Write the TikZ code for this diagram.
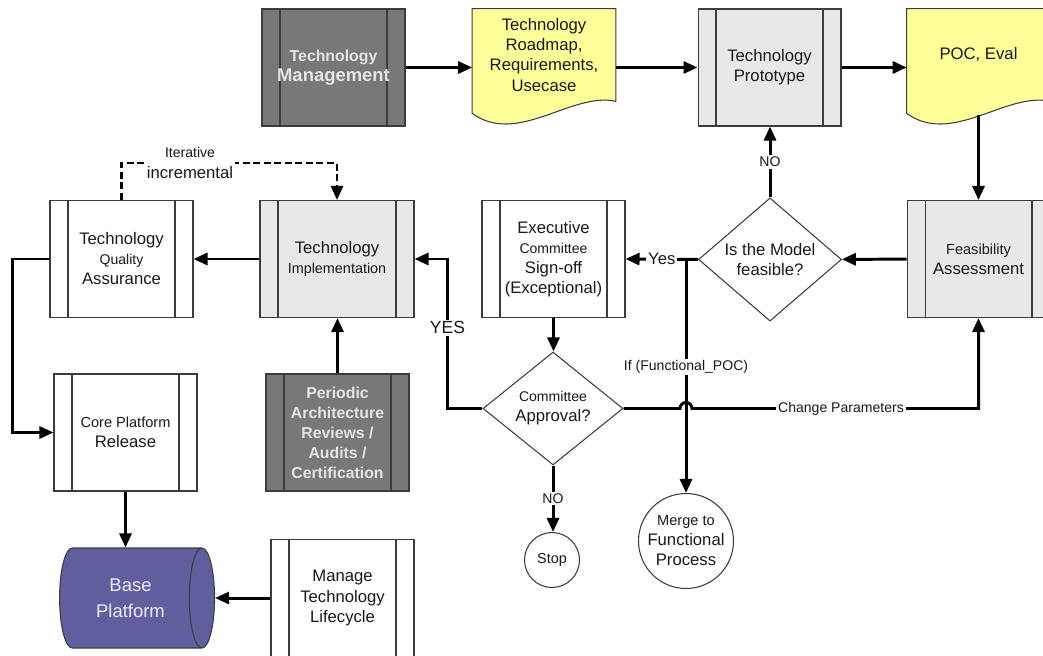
\documentclass[tikz,border=0pt]{standalone}
\usepackage{fontspec}
\setmainfont{Liberation Sans}
\usetikzlibrary{calc, shapes.geometric, arrows.meta, positioning, backgrounds}
\definecolor{darkbox}{HTML}{787878}
\definecolor{lightbox}{HTML}{E8E8E8}
\definecolor{docyellow}{HTML}{FFFF99}
\definecolor{baseblue}{HTML}{5F5F9E}
\definecolor{edge}{HTML}{3C3C3C}
\newcommand{\fsz}[1]{\fontsize{#1}{11.4}\selectfont}

\begin{document}
\begin{tikzpicture}[x=0.02cm,y=-0.02cm,
	every node/.style={font={\fsz{9.5}}, align=center, text=black!90},
	procbox/.style={draw=edge, line width=0.6pt, minimum width=2.86cm, minimum height=2.34cm, inner sep=0pt,
		path picture={\draw[edge, line width=0.6pt] ([xshift=0.36cm]path picture bounding box.north west) -- ([xshift=0.36cm]path picture bounding box.south west)
			([xshift=-0.36cm]path picture bounding box.north east) -- ([xshift=-0.36cm]path picture bounding box.south east);}},
	darkproc/.style={procbox, fill=darkbox, text=white!90!black, font={\bfseries\fsz{9}}},
	lightproc/.style={procbox, fill=lightbox},
	whiteproc/.style={procbox, fill=white},
	docbox/.style={minimum width=2.86cm, minimum height=1.84cm, inner sep=0pt},
	decision/.style={diamond, draw=edge, line width=0.6pt, fill=white, inner sep=0pt},
	terminal/.style={circle, draw=edge, line width=0.6pt, fill=white, inner sep=0pt},
	storage/.style={cylinder, draw=edge, line width=0.6pt, fill=baseblue, aspect=0.65, inner sep=0pt,
		text=white!92!blue, font={\fontsize{10.5}{14.8}\selectfont}},
	arr/.style={line width=1.7pt, -{Triangle[length=0.28cm, width=0.24cm]}},
	lbl/.style={fill=white, inner sep=1pt, font={\fsz{8}}},
	]
	\useasboundingbox (0,0) rectangle (1043,655);

	\node[darkproc] (techmgmt) at (333.5,67.5) {{\fsz{9}Technology}\\{\fsz{10.5}Management}};
	\node[docbox] (roadmap) at (544,55) {Technology\\Roadmap,\\Requirements,\\Usecase};
	\node[lightproc] (prototype) at (769.5,67.5) {Technology\\Prototype};
	\node[docbox] (poceval) at (978.5,55) {POC, Eval};
	\node[lightproc] (feasibility) at (978.5,259) {{\fsz{8.3}Feasibility}\\Assessment};
	\node[decision, minimum width=2.86cm, minimum height=2.3cm] (feasible) at (770,259.5) {Is the Model\\feasible?};
	\node[whiteproc] (signoff) at (553.5,259) {Executive\\{\fsz{8}Committee}\\Sign-off\\(Exceptional)};
	\node[lightproc, minimum width=3.08cm] (implement) at (337,259) {Technology\\{\fsz{8.2}Implementation}};
	\node[whiteproc] (qualityas) at (121.5,259) {Technology\\{\fsz{8}Quality}\\Assurance};
	\node[whiteproc] (coreplat) at (125.5,432.5) {{\fsz{8.3}Core Platform}\\Release};
	\node[darkproc] (periodic) at (337.5,432.5) {Periodic\\Architecture\\Reviews /\\Audits /\\Certification};
	\node[storage, minimum width=2cm, minimum height=3.1cm] (baseplat) at (130.5,598) {Base\\Platform};
	\node[whiteproc] (lifecycle) at (342.5,598) {Manage\\Technology\\Lifecycle};
	\node[decision, minimum width=2.8cm, minimum height=2.26cm] (approval) at (553,408.5) {{\fsz{8}Committee}\\Approval?};
	\node[terminal, minimum size=1.1cm] (stop) at (552,560) {{\fsz{8.2}Stop}};
	\node[terminal, minimum size=1.9cm] (merge) at (686,541) {{\fsz{8.3}Merge to}\\Functional\\Process};
	\coordinate (split) at (merge.north |- feasible.west);

	\begin{scope}[on background layer]
		\foreach \doc in {roadmap,poceval}
			\draw[draw=edge, line width=0.6pt, fill=docyellow] (\doc.south east) -- (\doc.north east) -- (\doc.north west) -- ($(\doc.south west)+(0,12)$) .. controls ($(\doc.south west)+(45,45)$) and ($(\doc.south west)+(100,-10)$) .. (\doc.south east) -- cycle;
	\end{scope}

	\draw[arr] (techmgmt) -- (techmgmt -| roadmap.west);
	\draw[arr] (roadmap.east |- prototype) -- (prototype);
	\draw[arr] (prototype) -- (prototype -| poceval.west);
	\draw[arr] ($(poceval.south)+(0,14)$) -- (feasibility);
	\draw[arr] (feasibility) -- (feasible);
	\draw[arr] (feasible.north) -- node[lbl]{NO} (feasible.north |- prototype.south);
	\draw[arr] (feasible.west) -- node[lbl, font={\fsz{9.5}}]{Yes} (signoff.east);
	\draw[arr] (split) -- node[lbl, pos=0.46]{If (Functional\_POC)} (merge);
	\draw[arr] (signoff.south) -- (signoff.south |- approval.north);
	\draw[arr] (approval.south) -- node[lbl]{NO} (approval.south |- stop.north);
	\draw[arr] (approval.west) -- ++(-35,0) |- node[lbl, pos=0.27, font={\fsz{10}}]{YES} (implement.east);
	\draw[arr] (approval.east) -- ($(split |- approval.east)+(-6,0)$) arc[start angle=180, end angle=0, radius=0.12cm] -- node[lbl, pos=0.52]{Change Parameters} (feasibility.south |- approval.east) -- (feasibility.south);
	\draw[arr] (implement) -- (qualityas);
	\draw[arr] (periodic.north) -- (periodic.north |- implement.south);
	\draw[arr, line width=1.4pt, dash pattern=on 4pt off 2pt] (qualityas.north) |- (190,163) node[lbl, font={\fsz{9.5}}]{{\fsz{8}Iterative}\\incremental} -| (implement.north);
	\draw[arr] (qualityas.west) -- ++(-37,0) |- (coreplat.west);
	\draw[arr] (coreplat.south) -- (coreplat.south |- baseplat.north);
	\draw[arr] (lifecycle.west |- baseplat.east) -- (baseplat.east);
\end{tikzpicture}
\end{document}
